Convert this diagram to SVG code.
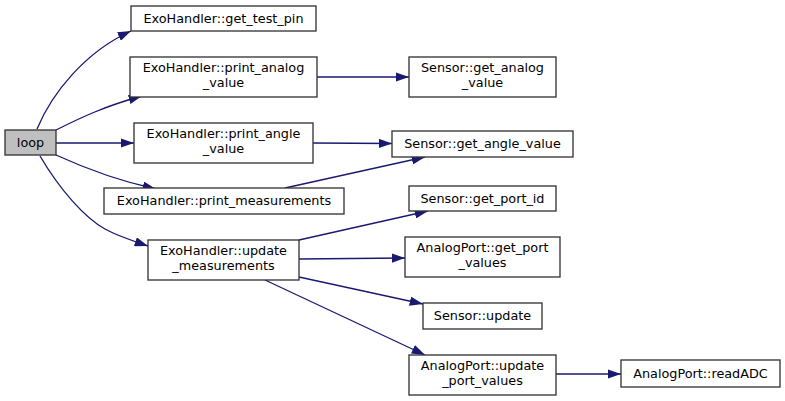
<svg xmlns="http://www.w3.org/2000/svg" width="785" height="401" viewBox="0 0 785 401">
<style>
.n rect{fill:#fff;stroke:#333;stroke-width:1.33}
.n.root rect{fill:#bfbfbf}
.n text{font-family:"DejaVu Sans",sans-serif;font-size:12.8px;fill:#000;text-anchor:middle}
.e path{fill:none;stroke:#191970;stroke-width:1.33}
</style>
<defs>
<marker id="ah" viewBox="0 0 13.3 9.4" refX="13.3" refY="4.7" markerWidth="13.3" markerHeight="9.4" markerUnits="userSpaceOnUse" orient="auto">
<path d="M0,0 L13.3,4.7 L0,9.4 z" fill="#191970"/>
</marker>
</defs>
<rect width="785" height="401" fill="#fff"/>
<g id="edges" class="e">
<path marker-end="url(#ah)" d="M37,129 C52,93 85,52 131,31"/>
<path marker-end="url(#ah)" d="M56,130 C80,118 105,106 142,96"/>
<path marker-end="url(#ah)" d="M56,143 L134,143"/>
<path marker-end="url(#ah)" d="M56,155 C80,166 115,180 156,189"/>
<path marker-end="url(#ah)" d="M40,156 C60,190 85,218 105,229 C118,236 133,241 148,246"/>
<path marker-end="url(#ah)" d="M317,77 L409,77"/>
<path marker-end="url(#ah)" d="M313,143 L392,143.5"/>
<path marker-end="url(#ah)" d="M285,188 L425,157"/>
<path marker-end="url(#ah)" d="M299,240 L428,211"/>
<path marker-end="url(#ah)" d="M299,259 L405,258"/>
<path marker-end="url(#ah)" d="M299,277 L423,304"/>
<path marker-end="url(#ah)" d="M265,280 L425,355"/>
<path marker-end="url(#ah)" d="M556,374 L621,374"/>
</g>
<g id="loop" class="n root"><rect x="5" y="130" width="51" height="25"/><text x="30.5" y="147">loop</text></g>
<g id="get_test_pin" class="n"><rect x="131" y="6" width="185" height="25"/><text x="223.5" y="23">ExoHandler::get_test_pin</text></g>
<g id="print_analog_value" class="n"><rect x="130" y="57" width="187" height="40"/><text x="223.5" y="72">ExoHandler::print_analog</text><text x="223.5" y="87">_value</text></g>
<g id="print_angle_value" class="n"><rect x="134" y="123" width="179" height="40"/><text x="223.5" y="138">ExoHandler::print_angle</text><text x="223.5" y="153">_value</text></g>
<g id="print_measurements" class="n"><rect x="104" y="188" width="240" height="26"/><text x="224" y="205">ExoHandler::print_measurements</text></g>
<g id="update_measurements" class="n"><rect x="148" y="240" width="151" height="40"/><text x="223.5" y="255">ExoHandler::update</text><text x="223.5" y="270">_measurements</text></g>
<g id="get_analog_value" class="n"><rect x="409" y="57" width="147" height="40"/><text x="482.5" y="72">Sensor::get_analog</text><text x="482.5" y="87">_value</text></g>
<g id="get_angle_value" class="n"><rect x="392" y="131" width="181" height="26"/><text x="482.5" y="148">Sensor::get_angle_value</text></g>
<g id="get_port_id" class="n"><rect x="409" y="186" width="147" height="25"/><text x="482.5" y="203">Sensor::get_port_id</text></g>
<g id="get_port_values" class="n"><rect x="405" y="237" width="155" height="40"/><text x="482.5" y="252">AnalogPort::get_port</text><text x="482.5" y="267">_values</text></g>
<g id="sensor_update" class="n"><rect x="423" y="303" width="119" height="26"/><text x="482.5" y="320">Sensor::update</text></g>
<g id="update_port_values" class="n"><rect x="409" y="355" width="147" height="40"/><text x="482.5" y="370">AnalogPort::update</text><text x="482.5" y="385">_port_values</text></g>
<g id="readADC" class="n"><rect x="621" y="360" width="159" height="27"/><text x="700.5" y="378">AnalogPort::readADC</text></g>
</svg>
